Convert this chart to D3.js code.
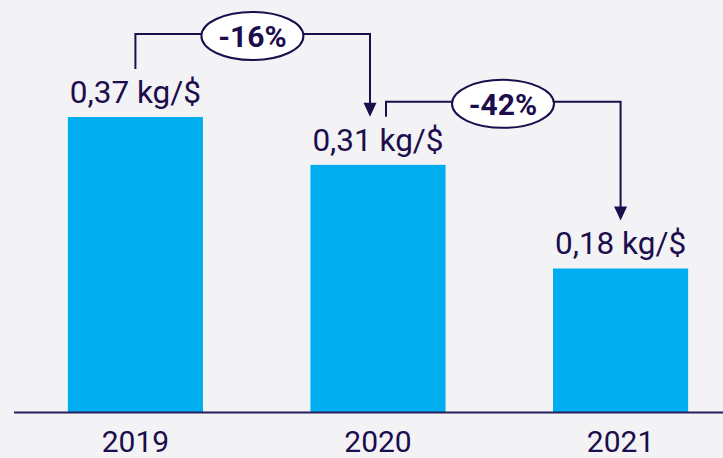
<!DOCTYPE html>
<html>
<head>
<meta charset="utf-8">
<script src="https://cdn.jsdelivr.net/npm/d3@7"></script>
<style>
  html, body { margin: 0; padding: 0; background: #f3f3f6; }
  svg { display: block; font-family: Roboto, 'Noto Sans', sans-serif; }
</style>
</head>
<body>
<div id="chart"></div>
<script>
const years = ['2019', '2020', '2021'];
const values = [0.37, 0.31, 0.18];
const changes = [
  { from: '2019', to: '2020', label: '-16%' },
  { from: '2020', to: '2021', label: '-42%' },
];

const width = 723;
const height = 458;
const ink = '#1c0d4d';
const barColor = '#00aeef';

const fmt = (v) => d3.format('.2f')(v).replace('.', ',') + ' kg/$';

const svg = d3.select('#chart').append('svg').attr('width', width).attr('height', height);

svg.append('rect').attr('width', width).attr('height', height).attr('fill', '#f3f3f6');

const x = d3.scaleBand().domain(years).range([14, 742]).paddingInner(0.443).paddingOuter(0.222);
const y = d3.scaleLinear().domain([0, 0.37]).range([412, 117]);

const data = years.map((yr, i) => ({ year: yr, value: values[i] }));
const byYear = new Map(data.map((d) => [d.year, d]));

// bars
svg
  .selectAll('rect.bar')
  .data(data)
  .join('rect')
  .attr('class', 'bar')
  .attr('x', (d) => x(d.year))
  .attr('y', (d) => y(d.value))
  .attr('width', x.bandwidth())
  .attr('height', (d) => y(0) - y(d.value))
  .attr('fill', barColor);

// value labels
svg
  .selectAll('text.val')
  .data(data)
  .join('text')
  .attr('class', 'val')
  .attr('x', (d) => x(d.year) + x.bandwidth() / 2)
  .attr('y', (d) => y(d.value) - 14)
  .attr('text-anchor', 'middle')
  .attr('fill', ink)
  .style('font-size', '31.5px')
  .text((d) => fmt(d.value));

// baseline + year axis
svg
  .append('line')
  .attr('x1', 14)
  .attr('x2', width)
  .attr('y1', y(0) + 0.5)
  .attr('y2', y(0) + 0.5)
  .attr('stroke', '#2a1d5e')
  .attr('stroke-width', 2);

svg
  .selectAll('text.year')
  .data(years)
  .join('text')
  .attr('class', 'year')
  .attr('x', (d) => x(d) + x.bandwidth() / 2)
  .attr('y', y(0) + 40)
  .attr('text-anchor', 'middle')
  .attr('fill', ink)
  .style('font-size', '30px')
  .text((d) => d);

// change brackets
const center = (yr) => x(yr) + x.bandwidth() / 2;
const bracketOffsets = [83, 63];
const startShift = [0, 8];
const endShift = [-8, 0];

changes.forEach((c, i) => {
  const from = byYear.get(c.from);
  const to = byYear.get(c.to);
  const x1 = center(c.from) + startShift[i];
  const x2 = center(c.to) + endShift[i];
  const yTop = y(from.value) - bracketOffsets[i];
  const yStart = y(from.value) - 48;
  const yEnd = y(to.value) - 48;

  const g = svg.append('g');
  g.append('path')
    .attr('d', `M${x1},${yStart}V${yTop}H${x2}V${yEnd - 12}`)
    .attr('fill', 'none')
    .attr('stroke', ink)
    .attr('stroke-width', 2);
  g.append('path')
    .attr('d', `M${x2 - 6.5},${yEnd - 14}L${x2 + 6.5},${yEnd - 14}L${x2},${yEnd}Z`)
    .attr('fill', ink);

  const cx = x1 + 117;
  g.append('ellipse')
    .attr('cx', cx)
    .attr('cy', yTop + 2)
    .attr('rx', 51)
    .attr('ry', 24)
    .attr('fill', '#ffffff')
    .attr('stroke', ink)
    .attr('stroke-width', 2);
  g.append('text')
    .attr('x', cx)
    .attr('y', yTop + 13)
    .attr('text-anchor', 'middle')
    .attr('fill', ink)
    .style('font-size', '30px')
    .style('font-weight', '700')
    .text(c.label);
});
</script>
</body>
</html>
